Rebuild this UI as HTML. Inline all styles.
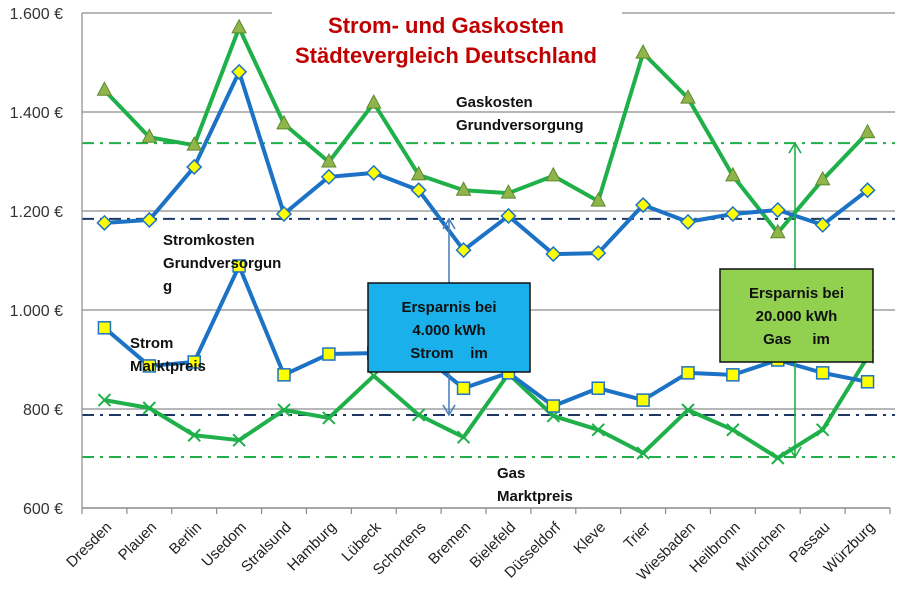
<!DOCTYPE html>
<html><head><meta charset="utf-8"><style>
html,body{margin:0;padding:0;background:#fff;}
svg{display:block;font-family:"Liberation Sans",sans-serif;}
</style></head><body>
<svg id="chart" width="900" height="609" viewBox="0 0 900 609">
<g id="grid"></g>
<g id="axes"></g>
<g id="series"></g>
<g id="overlay"></g>
</svg>
<script>
const categories=["Dresden","Plauen","Berlin","Usedom","Stralsund","Hamburg","Lübeck","Schortens","Bremen","Bielefeld","Düsseldorf","Kleve","Trier","Wiesbaden","Heilbronn","München","Passau","Würzburg"];
const gasGrund=[1444,1349,1333,1570,1376,1299,1418,1273,1242,1236,1271,1220,1519,1428,1271,1156,1263,1358];
const stromGrund=[1176,1182,1289,1481,1194,1269,1277,1242,1121,1190,1113,1115,1212,1178,1194,1202,1172,1242];
const stromMarkt=[964,887,895,1089,869,911,913,915,842,873,806,842,818,873,869,899,873,855];
const gasMarkt=[818,802,747,737,798,782,867,788,743,871,786,758,711,798,758,701,758,905];
const yTicks=[600,800,1000,1200,1400,1600];
const yTickLabels=["600 €","800 €","1.000 €","1.200 €","1.400 €","1.600 €"];
const refLines=[{v:1337,c:"#1fb04a",n:"gas-grund-average-line"},{v:1184,c:"#1f3864",n:"strom-grund-average-line"},{v:788,c:"#1f3864",n:"strom-markt-average-line"},{v:703,c:"#1fb04a",n:"gas-markt-average-line"}];

const NS="http://www.w3.org/2000/svg";
const X0=82,X1=890,Y0=508,Y1=13;
const bw=(X1-X0)/categories.length;
const xs=i=>X0+bw*(i+0.5);
const ys=v=>Y0-(v-600)/1000*(Y0-Y1);
function mk(tag,attrs,parent,text){const e=document.createElementNS(NS,tag);for(const k in attrs)e.setAttribute(k,attrs[k]);if(text!==undefined)e.textContent=text;parent.appendChild(e);return e;}
const grid=document.getElementById('grid'),axes=document.getElementById('axes'),series=document.getElementById('series'),ov=document.getElementById('overlay');

yTicks.forEach((t,i)=>{
  if(t>600){const l=mk('line',{x1:X0,x2:895,y1:ys(t),y2:ys(t),stroke:'#8c8c8c','stroke-width':1.2},grid);
  
  }
  const tx=mk('text',{x:63,y:ys(t)+6,'text-anchor':'end','font-size':16,fill:'#333'},axes,yTickLabels[i]);
  
  
});
let a=mk('line',{x1:X0,x2:X0,y1:Y1,y2:Y0,stroke:'#8c8c8c','stroke-width':1.2},axes);

a=mk('line',{x1:X0,x2:X1,y1:Y0,y2:Y0,stroke:'#8c8c8c','stroke-width':1.5},axes);

for(let i=0;i<=categories.length;i++){mk('line',{x1:X0+bw*i,x2:X0+bw*i,y1:Y0,y2:Y0+6,stroke:'#8c8c8c','stroke-width':1.2},axes);}
categories.forEach((c,i)=>{
  const x=xs(i)+8,y=Y0+20;
  const t=mk('text',{x:x,y:y,'text-anchor':'end','font-size':15,fill:'#222',transform:`rotate(-45 ${x} ${y})`},axes,c);
  
  
});
mk('rect',{x:272,y:0,width:350,height:70,fill:'#fff'},axes);
let tt=mk('text',{x:446,y:33,'text-anchor':'middle','font-size':22,'font-weight':'bold',fill:'#c00000'},axes,'Strom- und Gaskosten');

tt=mk('text',{x:446,y:63,'text-anchor':'middle','font-size':22,'font-weight':'bold',fill:'#c00000'},axes,'Städtevergleich Deutschland');


refLines.forEach(r=>{
  const l=mk('line',{x1:X0,x2:895,y1:ys(r.v),y2:ys(r.v),stroke:r.c,'stroke-width':2,'stroke-dasharray':'12,6,3,6'},grid);
  
  
});

function line(data,color,name){
  const p=mk('polyline',{points:data.map((v,i)=>xs(i)+','+ys(v)).join(' '),fill:'none',stroke:color,'stroke-width':4,'stroke-linejoin':'round'},series);
  
  
}
line(gasMarkt,'#1fb04a','gas-marktpreis-line');
line(stromMarkt,'#1c72c4','strom-marktpreis-line');
line(gasGrund,'#1fb04a','gas-grundversorgung-line');
line(stromGrund,'#1c72c4','strom-grundversorgung-line');
gasMarkt.forEach((v,i)=>{const x=xs(i),y=ys(v);
  const g=mk('path',{d:`M${x-6},${y-6}L${x+6},${y+6}M${x-6},${y+6}L${x+6},${y-6}`,stroke:'#1fb04a','stroke-width':2},series);
  });
stromMarkt.forEach((v,i)=>{const x=xs(i),y=ys(v);
  const g=mk('rect',{x:x-6,y:y-6,width:12,height:12,fill:'#ffff00',stroke:'#1c72c4','stroke-width':1.5},series);
  });
gasGrund.forEach((v,i)=>{const x=xs(i),y=ys(v);
  const g=mk('path',{d:`M${x},${y-8}L${x+7},${y+5}L${x-7},${y+5}Z`,fill:'#8fb54a',stroke:'#5d8a2e','stroke-width':1},series);
  });
stromGrund.forEach((v,i)=>{const x=xs(i),y=ys(v);
  const g=mk('path',{d:`M${x},${y-7}L${x+7},${y}L${x},${y+7}L${x-7},${y}Z`,fill:'#ffff00',stroke:'#1c72c4','stroke-width':1.5},series);
  });

function lbl(lines,x,y,name){lines.forEach((s,k)=>{const t=mk('text',{x:x,y:y+k*23,'font-size':15,'font-weight':'bold',fill:'#111'},ov,s);
  });}
lbl(['Gaskosten','Grundversorgung'],456,107,'gas-grund-label');
lbl(['Stromkosten','Grundversorgun','g'],163,245,'strom-grund-label');
lbl(['Strom','Marktpreis'],130,348,'strom-markt-label');
lbl(['Gas','Marktpreis'],497,478,'gas-markt-label');

function arrow(x,y1,y2,c,name){const g=mk('g',{},ov);
  
  mk('line',{x1:x,x2:x,y1:y1,y2:y2,stroke:c,'stroke-width':1.6},g);
  mk('path',{d:`M${x-6},${y1+10}L${x},${y1}L${x+6},${y1+10}M${x-6},${y2-10}L${x},${y2}L${x+6},${y2-10}`,fill:'none',stroke:c,'stroke-width':1.6},g);}
arrow(449,ys(1184),ys(788),'#4f81bd','strom-savings-arrow');
arrow(795,ys(1337),ys(703),'#1fb04a','gas-savings-arrow');

function box(x,y,w,h,fill,lines,name){const g=mk('g',{},ov);
  
  mk('rect',{x:x,y:y,width:w,height:h,fill:fill,stroke:'#111','stroke-width':1.5},g);
  lines.forEach((s,k)=>mk('text',{x:x+w/2,y:y+29+k*23,'text-anchor':'middle','font-size':15,'font-weight':'bold',fill:'#111',style:'white-space:pre'},g,s));}
box(368,283,162,89,'#1ab0ec',['Ersparnis bei','4.000 kWh','Strom    im'],'strom-savings-box');
box(720,269,153,93,'#92d050',['Ersparnis bei','20.000 kWh','Gas     im'],'gas-savings-box');
</script>
</body></html>
